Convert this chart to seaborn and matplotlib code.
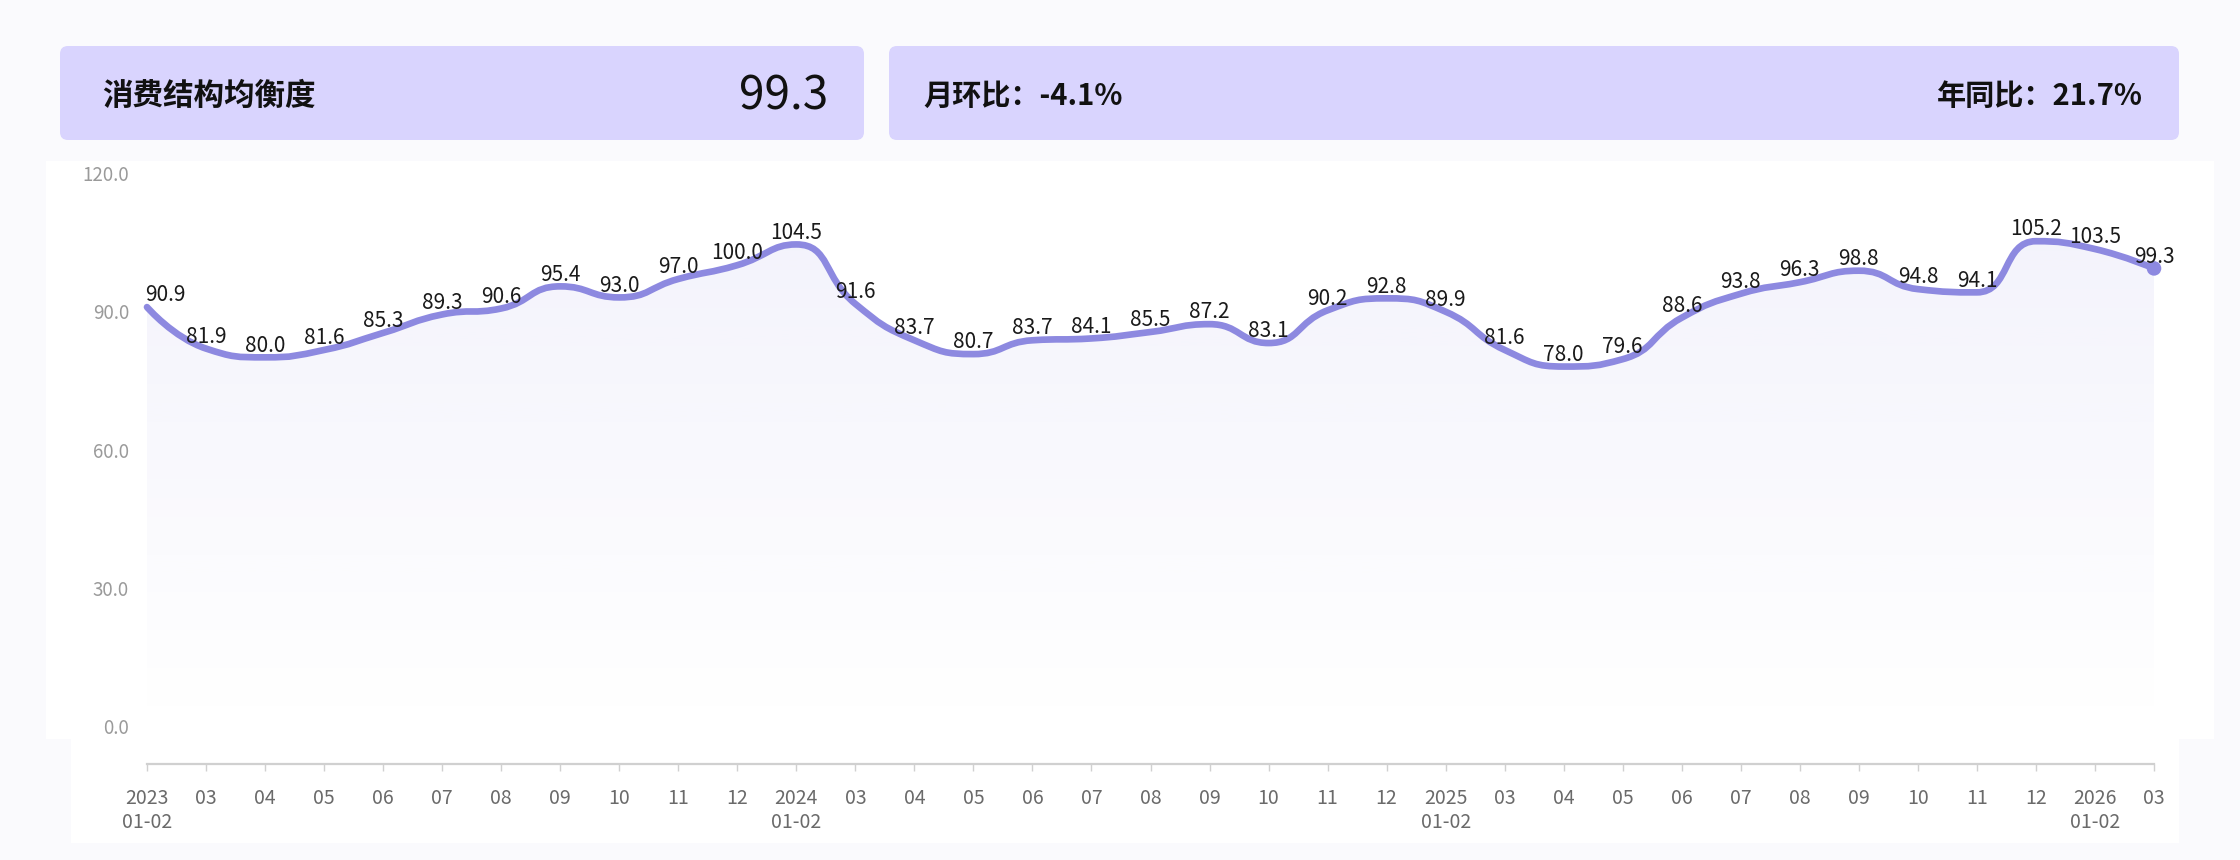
import numpy as np
import seaborn as sns
import matplotlib.pyplot as plt
from matplotlib.path import Path
from matplotlib.patches import PathPatch, FancyBboxPatch, Rectangle
from matplotlib.colors import to_rgb

# ---- data ----
months = ["2023\n01-02", "03", "04", "05", "06", "07", "08", "09", "10", "11", "12",
          "2024\n01-02", "03", "04", "05", "06", "07", "08", "09", "10", "11", "12",
          "2025\n01-02", "03", "04", "05", "06", "07", "08", "09", "10", "11", "12",
          "2026\n01-02", "03"]
values = [90.9, 81.9, 80.0, 81.6, 85.3, 89.3, 90.6, 95.4, 93.0, 97.0, 100.0,
          104.5, 91.6, 83.7, 80.7, 83.7, 84.1, 85.5, 87.2, 83.1, 90.2, 92.8,
          89.9, 81.6, 78.0, 79.6, 88.6, 93.8, 96.3, 98.8, 94.8, 94.1, 105.2,
          103.5, 99.3]
y_ticks = [0, 30, 60, 90, 120]
title = "消费结构均衡度"
latest = "99.3"
mom = "月环比：-4.1%"
yoy = "年同比：21.7%"

W, H = 2240, 860
LINE = "#8d89e0"
BOX = "#d9d4fe"

sns.set_theme(style="white")
plt.rcParams["font.family"] = ["Noto Sans CJK SC", "DejaVu Sans"]

fig = plt.figure(figsize=(W / 100, H / 100), dpi=100, facecolor="#fafafd")

# background panels and header cards (pixel coords)
bg = fig.add_axes([0, 0, 1, 1], zorder=0)
bg.set_xlim(0, W)
bg.set_ylim(H, 0)
bg.axis("off")
bg.add_patch(Rectangle((46, 161), 2168, 578, color="white", lw=0))
bg.add_patch(Rectangle((71, 739), 2108, 104, color="white", lw=0))
bg.add_patch(FancyBboxPatch((60, 46), 804, 94, boxstyle="round,pad=0,rounding_size=8",
                            fc=BOX, ec="none"))
bg.add_patch(FancyBboxPatch((889, 46), 1290, 94, boxstyle="round,pad=0,rounding_size=8",
                            fc=BOX, ec="none"))
bg.text(102, 96, title, fontsize=22, fontweight="bold", color="#111", va="center", ha="left")
bg.text(828, 96, latest, fontsize=33, color="#111", va="center", ha="right")
bg.text(923, 96, mom, fontsize=21, fontweight="bold", color="#111", va="center", ha="left")
bg.text(2143, 96, yoy, fontsize=21, fontweight="bold", color="#111", va="center", ha="right")

# main plot
L, R, T, B = 147, 2154, 173, 726
ax = fig.add_axes([L / W, 1 - B / H, (R - L) / W, (B - T) / H], zorder=1)
ax.patch.set_alpha(0)

x = np.arange(len(values))
sx = (R - L) / (len(values) - 1)
sy = (B - T) / 120


def smooth_path(xs, ys, smooth=0.5):
    # echarts-like clamped bezier, computed in pixel space
    P = [(a * sx, b * sy) for a, b in zip(xs, ys)]
    verts = [P[0]]
    codes = [Path.MOVETO]
    cp0 = P[0]
    n = len(P)
    for i in range(1, n):
        px_, py_ = P[i - 1]
        cx, cy = P[i]
        if i == n - 1:
            cp1 = (cx, cy)
            ncp = None
        else:
            nx, ny = P[i + 1]
            vx, vy = nx - px_, ny - py_
            l0 = np.hypot(cx - px_, cy - py_)
            l1 = np.hypot(nx - cx, ny - cy)
            r = l1 / (l0 + l1)
            ncx = cx + vx * smooth * r
            ncy = cy + vy * smooth * r
            ncx = min(max(ncx, min(nx, cx)), max(nx, cx))
            ncy = min(max(ncy, min(ny, cy)), max(ny, cy))
            vx, vy = ncx - cx, ncy - cy
            c1x = cx - vx * l0 / l1
            c1y = cy - vy * l0 / l1
            c1x = min(max(c1x, min(px_, cx)), max(px_, cx))
            c1y = min(max(c1y, min(py_, cy)), max(py_, cy))
            vx, vy = cx - c1x, cy - c1y
            ncx = cx + vx * l1 / l0
            ncy = cy + vy * l1 / l0
            cp1 = (c1x, c1y)
            ncp = (ncx, ncy)
        verts += [cp0, cp1, (cx, cy)]
        codes += [Path.CURVE4] * 3
        cp0 = ncp
    verts = [(a / sx, b / sy) for a, b in verts]
    return verts, codes


verts, codes = smooth_path(x, values)
line_path = Path(verts, codes)
area_path = Path(verts + [(x[-1], 0), (x[0], 0), (x[0], 0)],
                 codes + [Path.LINETO, Path.LINETO, Path.CLOSEPOLY])

area = PathPatch(area_path, fc="none", ec="none")
ax.add_patch(area)
rgba = np.zeros((256, 1, 4))
rgba[..., :3] = to_rgb(LINE)
rgba[..., 3] = np.linspace(0.0, 0.1, 256)[:, None]
im = ax.imshow(rgba, extent=[x[0], x[-1], 0, max(values)], origin="lower",
               aspect="auto", zorder=1, interpolation="bilinear")
im.set_clip_path(area)

ax.add_patch(PathPatch(line_path, fc="none", ec=LINE, lw=4.8, capstyle="round",
                       joinstyle="round", zorder=3, clip_on=False))
sns.scatterplot(x=x[-1:], y=values[-1:], s=110, color=LINE, edgecolor="none",
                ax=ax, zorder=4, legend=False, clip_on=False)

for i, v in enumerate(values):
    ax.annotate(f"{v:.1f}", (x[i], v), xytext=(-1 if i == 0 else 0, 8.5),
                textcoords="offset points", ha="left" if i == 0 else "center",
                va="center", fontsize=15, color="#1a1a1a", zorder=5)

ax.set_xlim(0, len(values) - 1)
ax.set_ylim(0, 120)
ax.set_yticks(y_ticks)
ax.set_yticklabels([f"{t:.1f}" for t in y_ticks])
ax.set_xticks(x)
ax.set_xticklabels(months, linespacing=1.7)
for s in ["top", "right", "left"]:
    ax.spines[s].set_visible(False)
ax.spines["bottom"].set_position(("outward", 27.4))
ax.spines["bottom"].set_color("#d0d0d0")
ax.spines["bottom"].set_linewidth(1.6)
ax.tick_params(axis="y", length=0, pad=13, labelsize=13.5, labelcolor="#9a9a9a")
ax.tick_params(axis="x", length=5, width=1, color="#d0d0d0", pad=12,
               labelsize=14, labelcolor="#6a6a6a", bottom=True)
ax.grid(False)

fig.savefig("out.png", dpi=100, facecolor=fig.get_facecolor())
